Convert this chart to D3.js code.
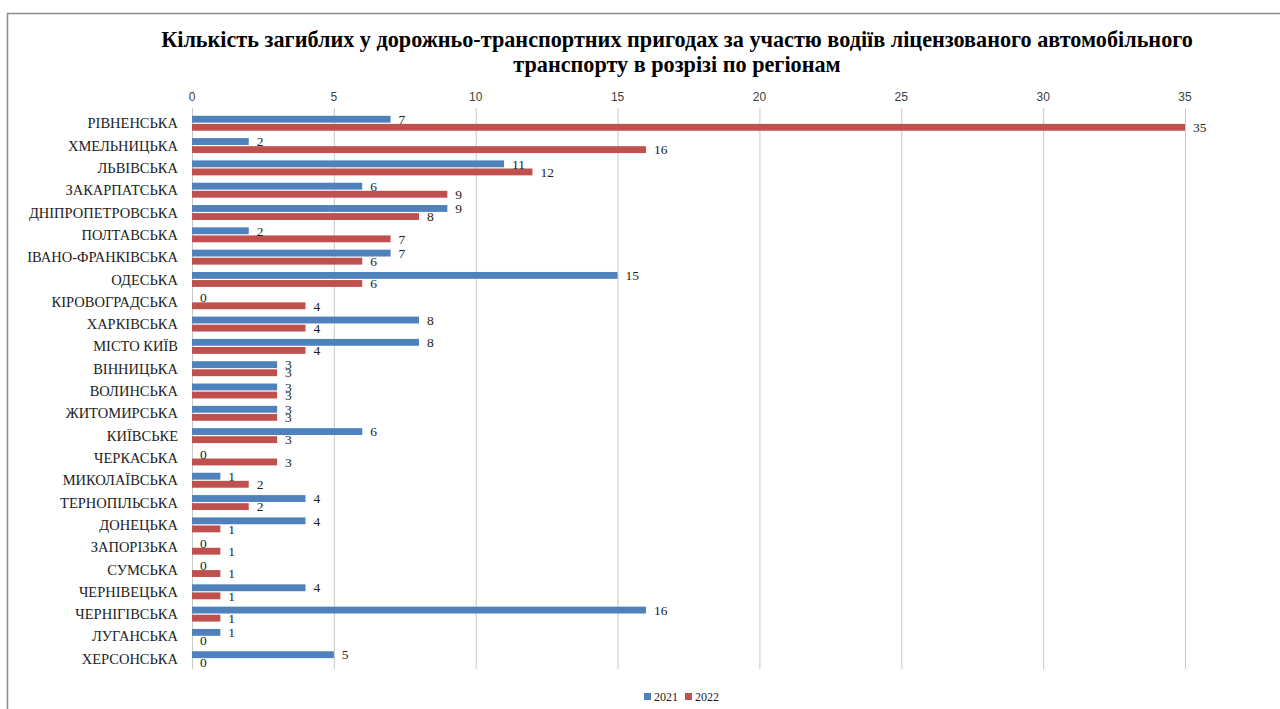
<!DOCTYPE html>
<html>
<head>
<meta charset="utf-8">
<script src="https://cdn.jsdelivr.net/npm/d3@7"></script>
<style>
  body { margin: 0; background: #fff; }
  svg { display: block; }
</style>
</head>
<body>
<div id="chart"></div>
<script>
const regions = ['РІВНЕНСЬКА', 'ХМЕЛЬНИЦЬКА', 'ЛЬВІВСЬКА', 'ЗАКАРПАТСЬКА', 'ДНІПРОПЕТРОВСЬКА',
    'ПОЛТАВСЬКА', 'ІВАНО-ФРАНКІВСЬКА', 'ОДЕСЬКА', 'КІРОВОГРАДСЬКА', 'ХАРКІВСЬКА', 'МІСТО КИЇВ',
    'ВІННИЦЬКА', 'ВОЛИНСЬКА', 'ЖИТОМИРСЬКА', 'КИЇВСЬКЕ', 'ЧЕРКАСЬКА', 'МИКОЛАЇВСЬКА',
    'ТЕРНОПІЛЬСЬКА', 'ДОНЕЦЬКА', 'ЗАПОРІЗЬКА', 'СУМСЬКА', 'ЧЕРНІВЕЦЬКА', 'ЧЕРНІГІВСЬКА',
    'ЛУГАНСЬКА', 'ХЕРСОНСЬКА'];
const values2021 = [7, 2, 11, 6, 9, 2, 7, 15, 0, 8, 8, 3, 3, 3, 6, 0, 1, 4, 4, 0, 0, 4, 16, 1, 5];
const values2022 = [35, 16, 12, 9, 8, 7, 6, 6, 4, 4, 4, 3, 3, 3, 3, 3, 2, 2, 1, 1, 1, 1, 1, 0, 0];
const seriesNames = ['2021', '2022'];
const xTicks = [0, 5, 10, 15, 20, 25, 30, 35];

const titleLines = [
    'Кількість загиблих у дорожньо-транспортних пригодах за участю водіїв ліцензованого автомобільного',
    'транспорту в розрізі по регіонам'
];

const width = 1280, height = 709;
const margin = {top: 112, right: 95, bottom: 39, left: 192};
const colors = {'2021': '#4f81bd', '2022': '#c0504d'};

const svg = d3.select('#chart').append('svg')
    .attr('width', width)
    .attr('height', height)
    .attr('viewBox', `0 0 ${width} ${height}`);

// chart frame (only left and top edges visible in the picture)
svg.append('path')
    .attr('d', `M7.5,${height} V13.5 H${width}`)
    .attr('fill', 'none')
    .attr('stroke', '#8c8c8c')
    .attr('stroke-width', 1.5);

const x = d3.scaleLinear()
    .domain([0, 35])
    .range([margin.left, width - margin.right]);

const y = d3.scaleBand()
    .domain(regions)
    .range([margin.top, height - margin.bottom])
    .paddingInner(0.33)
    .paddingOuter(0.17);

const ySub = d3.scaleBand()
    .domain(seriesNames)
    .range([0, y.bandwidth()])
    .paddingInner(0.15);

// gridlines
svg.append('g')
    .selectAll('line')
    .data(xTicks)
    .join('line')
    .attr('x1', d => x(d) + 0.5)
    .attr('x2', d => x(d) + 0.5)
    .attr('y1', 108)
    .attr('y2', height - 40)
    .attr('stroke', '#c8c8c8')
    .attr('stroke-width', 1);

// top axis labels
svg.append('g')
    .selectAll('text')
    .data(xTicks)
    .join('text')
    .attr('x', d => x(d))
    .attr('y', 101)
    .attr('text-anchor', 'middle')
    .attr('font-family', 'Liberation Sans, Arial, sans-serif')
    .attr('font-size', 12)
    .attr('fill', '#404040')
    .text(d => d);

// title
svg.append('g')
    .selectAll('text')
    .data(titleLines)
    .join('text')
    .attr('x', 677)
    .attr('y', (d, i) => 47 + i * 25)
    .attr('text-anchor', 'middle')
    .attr('font-family', 'Liberation Serif, Times New Roman, serif')
    .attr('font-weight', 'bold')
    .attr('font-size', 22.2)
    .attr('fill', '#000')
    .text(d => d);

// category labels
svg.append('g')
    .selectAll('text')
    .data(regions)
    .join('text')
    .attr('x', 178)
    .attr('y', d => y(d) + y.bandwidth() / 2)
    .attr('dy', '0.35em')
    .attr('text-anchor', 'end')
    .attr('font-family', 'Liberation Serif, Times New Roman, serif')
    .attr('font-size', 14.5)
    .attr('fill', '#222')
    .text(d => d);

const rows = regions.map((r, i) => ({
    region: r,
    items: [{s: '2021', v: values2021[i]}, {s: '2022', v: values2022[i]}]
}));

const groups = svg.append('g')
    .selectAll('g')
    .data(rows)
    .join('g')
    .attr('transform', d => `translate(0,${y(d.region)})`);

groups.selectAll('rect')
    .data(d => d.items)
    .join('rect')
    .attr('x', x(0))
    .attr('y', d => ySub(d.s))
    .attr('width', d => x(d.v) - x(0))
    .attr('height', ySub.bandwidth())
    .attr('fill', d => colors[d.s]);

groups.selectAll('text')
    .data(d => d.items)
    .join('text')
    .attr('x', d => x(d.v) + 8)
    .attr('y', d => ySub(d.s) + ySub.bandwidth() / 2)
    .attr('dy', '0.35em')
    .attr('font-family', 'Liberation Serif, Times New Roman, serif')
    .attr('font-size', 13.5)
    .attr('fill', '#222')
    .text(d => d.v);

// legend
const legend = svg.append('g')
    .attr('transform', 'translate(644,697)');
const legendItem = legend.selectAll('g')
    .data(seriesNames)
    .join('g')
    .attr('transform', (d, i) => `translate(${i * 41},0)`);
legendItem.append('rect')
    .attr('x', 0)
    .attr('y', -4)
    .attr('width', 7)
    .attr('height', 7)
    .attr('fill', d => colors[d]);
legendItem.append('text')
    .attr('x', 10)
    .attr('y', 0)
    .attr('dy', '0.35em')
    .attr('font-family', 'Liberation Serif, Times New Roman, serif')
    .attr('font-size', 12)
    .attr('fill', '#222')
    .text(d => d);
</script>
</body>
</html>
